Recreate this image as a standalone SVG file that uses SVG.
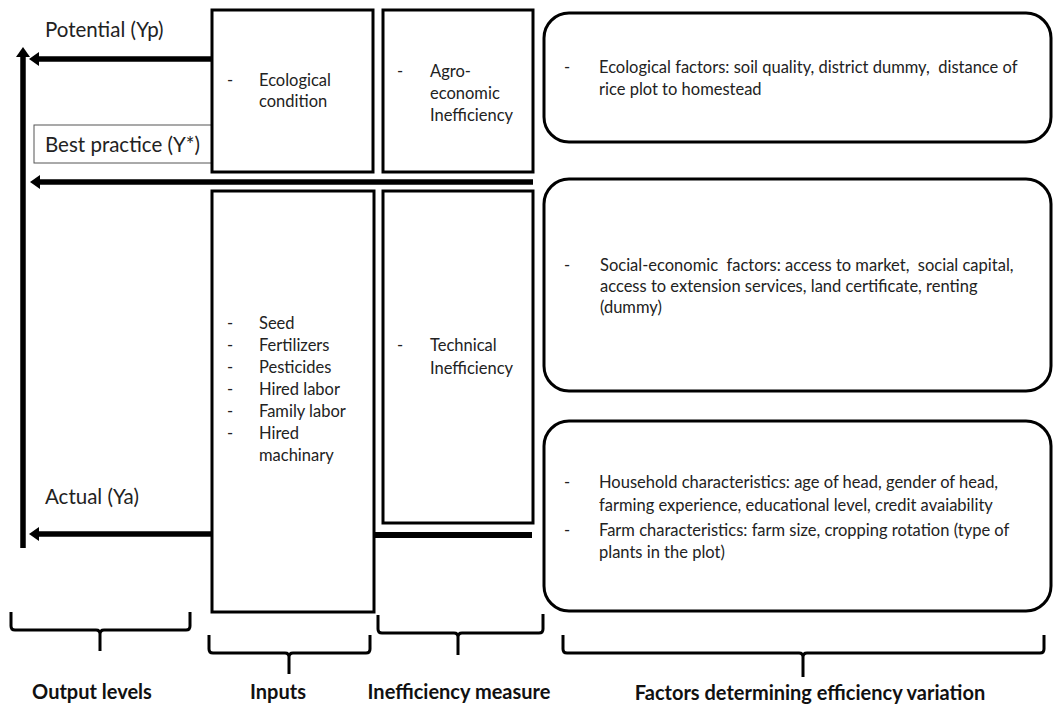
<svg xmlns="http://www.w3.org/2000/svg" width="1053" height="704" viewBox="0 0 1053 704">
<defs>
<marker id="ah" markerUnits="userSpaceOnUse" markerWidth="12" markerHeight="14" viewBox="0 0 12 14" refX="2" refY="7" orient="auto">
<path d="M0,0 L10,7 L0,14 Z" fill="#000"/>
</marker>
<style>
.box{fill:#fff;stroke:#000;stroke-width:3}
.rbox{fill:#fff;stroke:#000;stroke-width:3}
.t{font-family:Lato,"Liberation Sans",sans-serif;font-size:16.5px;fill:#222;white-space:pre}
.lab{font-family:Lato,"Liberation Sans",sans-serif;font-size:20.5px;fill:#222}
.bl{font-family:Lato,"Liberation Sans",sans-serif;font-size:20px;font-weight:bold;fill:#111;text-anchor:middle}
.arr{stroke:#000;stroke-width:5.5;fill:none;marker-end:url(#ah)}
.br{stroke:#000;stroke-width:3;fill:none;stroke-linejoin:round}
</style>
</defs>
<rect width="1053" height="704" fill="#fff"/>

<g id="connectors">
<line class="arr" x1="23" y1="548" x2="23" y2="55"/>
<line class="arr" x1="212" y1="59" x2="37" y2="59"/>
<line class="arr" x1="533" y1="182" x2="38" y2="182"/>
<line class="arr" x1="212" y1="534" x2="37" y2="534"/>
<line x1="374" y1="535" x2="532" y2="535" stroke="#000" stroke-width="6"/>
</g>

<g id="label-potential"><text class="lab" x="45" y="37">Potential (Yp)</text></g>
<g id="label-best">
<rect x="34" y="125" width="178" height="38" fill="#fff" stroke="#555" stroke-width="1"/>
<text class="lab" x="45" y="152">Best practice (Y*)</text>
</g>
<g id="label-actual"><text class="lab" x="45" y="504">Actual (Ya)</text></g>

<g id="node-ecological">
<rect class="box" x="212" y="10" width="161" height="162"/>
<text class="t" x="227" y="86">-</text>
<text class="t" x="259" y="86">Ecological</text>
<text class="t" x="259" y="107">condition</text>
</g>

<g id="node-agro">
<rect class="box" x="383" y="10" width="150" height="162"/>
<text class="t" x="397" y="77">-</text>
<text class="t" x="430" y="77">Agro-</text>
<text class="t" x="430" y="99">economic</text>
<text class="t" x="430" y="121">Inefficiency</text>
</g>

<g id="node-inputs">
<rect class="box" x="212" y="191" width="162" height="421"/>
<g class="t">
<text x="227" y="329">-</text><text x="259" y="329">Seed</text>
<text x="227" y="351">-</text><text x="259" y="351">Fertilizers</text>
<text x="227" y="373">-</text><text x="259" y="373">Pesticides</text>
<text x="227" y="395">-</text><text x="259" y="395">Hired labor</text>
<text x="227" y="417">-</text><text x="259" y="417">Family labor</text>
<text x="227" y="439">-</text><text x="259" y="439">Hired</text>
<text x="259" y="461">machinary</text>
</g>
</g>

<g id="node-technical">
<rect class="box" x="383" y="191" width="150" height="332"/>
<text class="t" x="397" y="351">-</text>
<text class="t" x="430" y="351">Technical</text>
<text class="t" x="430" y="374">Inefficiency</text>
</g>

<g id="node-ecofactors">
<rect class="rbox" x="544" y="13" width="507" height="129" rx="25"/>
<text class="t" x="564" y="73">-</text>
<text class="t" x="599" y="73">Ecological factors: soil quality, district dummy,  distance of</text>
<text class="t" x="599" y="95">rice plot to homestead</text>
</g>

<g id="node-socio">
<rect class="rbox" x="544" y="179" width="507" height="212" rx="25"/>
<text class="t" x="564" y="271">-</text>
<text class="t" x="600" y="271">Social-economic  factors: access to market,  social capital,</text>
<text class="t" x="600" y="292">access to extension services, land certificate, renting</text>
<text class="t" x="600" y="313">(dummy)</text>
</g>

<g id="node-household">
<rect class="rbox" x="544" y="421" width="507" height="190" rx="25"/>
<text class="t" x="564" y="488">-</text>
<text class="t" x="599" y="488">Household characteristics: age of head, gender of head,</text>
<text class="t" x="599" y="511">farming experience, educational level, credit avaiability</text>
<text class="t" x="564" y="536">-</text>
<text class="t" x="599" y="536">Farm characteristics: farm size, cropping rotation (type of</text>
<text class="t" x="599" y="558">plants in the plot)</text>
</g>

<g id="bracket-output">
<path class="br" d="M11,612 V626 Q11,630 15,630 H96 Q100,630 100,634 V651 M100,634 Q100,630 104,630 H186 Q190,630 190,626 V612"/>
<text class="bl" x="92" y="699">Output levels</text>
</g>
<g id="bracket-inputs">
<path class="br" d="M209,635 V649 Q209,653 213,653 H285 Q289,653 289,657 V674 M289,657 Q289,653 293,653 H366 Q370,653 370,649 V635"/>
<text class="bl" x="278" y="699">Inputs</text>
</g>
<g id="bracket-ineff">
<path class="br" d="M378,615 V629 Q378,633 382,633 H454 Q458,633 458,637 V655 M458,637 Q458,633 462,633 H539 Q543,633 543,629 V614"/>
<text class="bl" x="459" y="699">Inefficiency measure</text>
</g>
<g id="bracket-factors">
<path class="br" d="M563,635 V649 Q563,653 567,653 H799 Q803,653 803,657 V677 M803,657 Q803,653 807,653 H1040 Q1044,653 1044,649 V635"/>
<text class="bl" x="810" y="700">Factors determining efficiency variation</text>
</g>
</svg>
